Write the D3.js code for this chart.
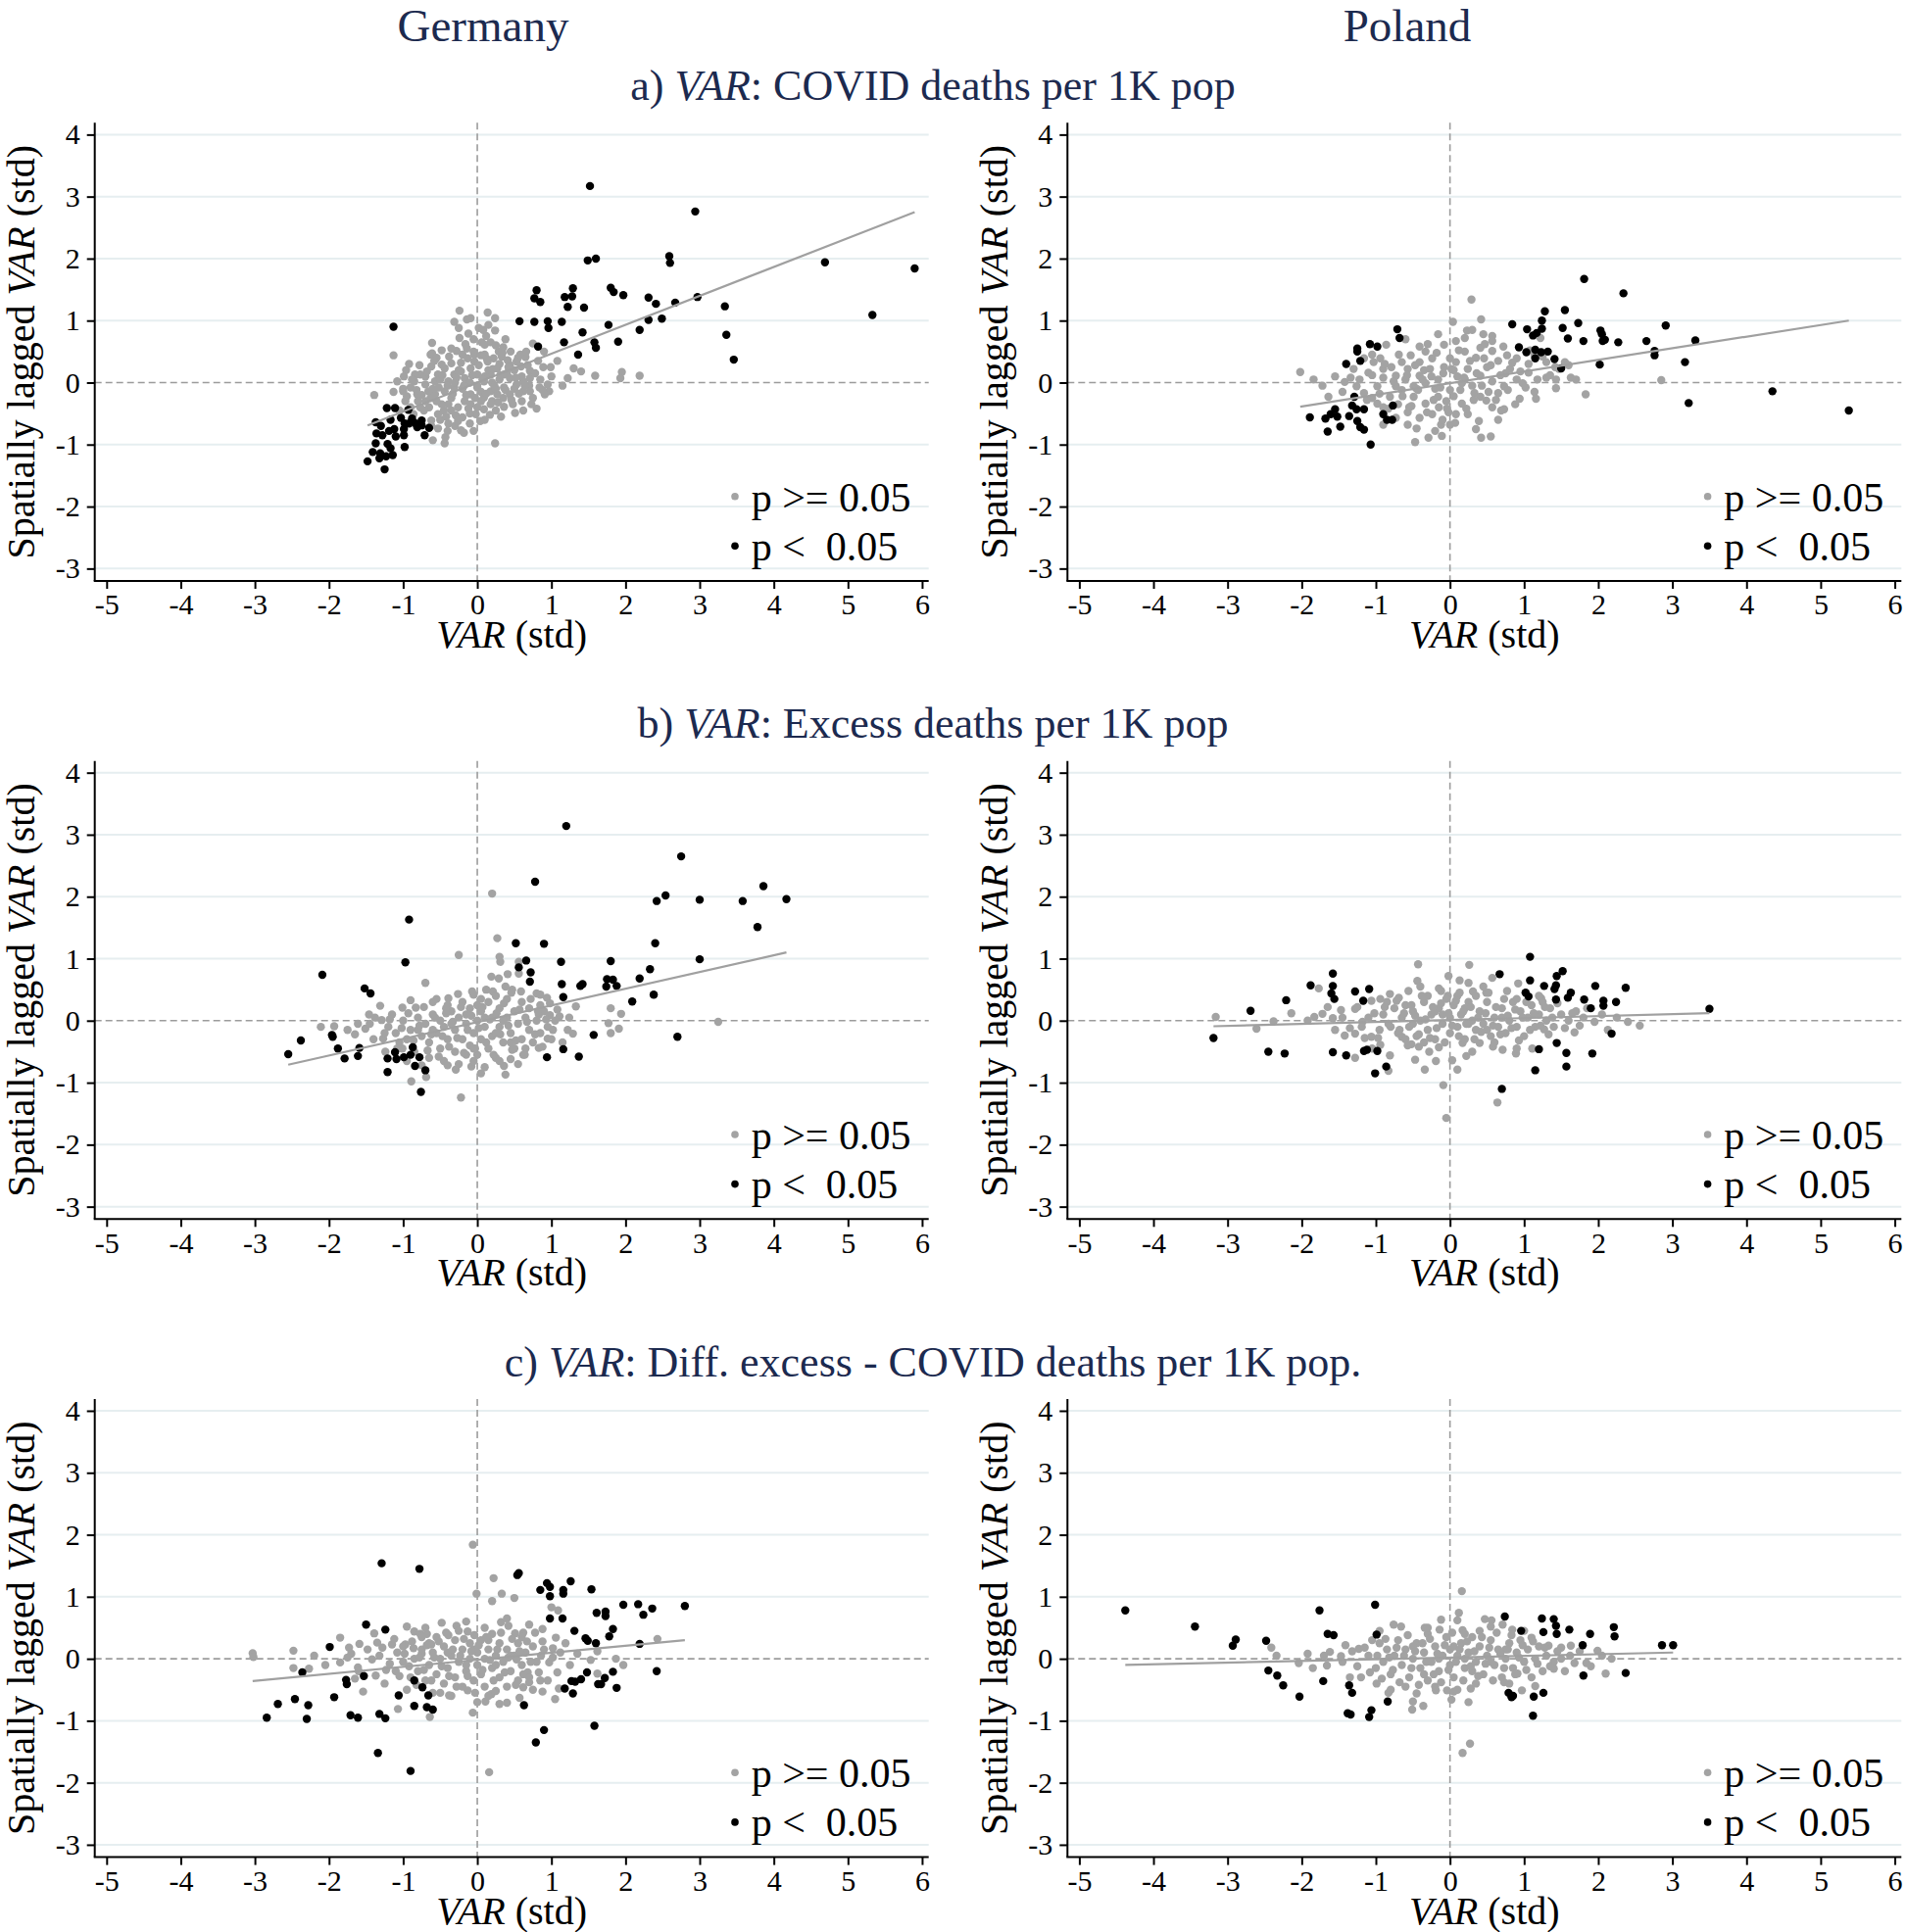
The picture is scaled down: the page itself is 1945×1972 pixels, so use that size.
<!DOCTYPE html>
<html><head><meta charset="utf-8">
<script src="https://cdn.jsdelivr.net/npm/d3@7"></script>
<style>
body{margin:0;background:#fff}
svg{display:block}
text{font-family:"Liberation Serif","Times New Roman",serif}
</style>
</head><body>
<svg id="chart" width="1945" height="1972"></svg>
<script>
// ---------- labels ----------
const colTitles = ["Germany", "Poland"];
const rowTitles = [
  ["a) ", "VAR", ": COVID deaths per 1K pop"],
  ["b) ", "VAR", ": Excess deaths per 1K pop"],
  ["c) ", "VAR", ": Diff. excess - COVID deaths per 1K pop."]
];
const xTicks = [-5,-4,-3,-2,-1,0,1,2,3,4,5,6];
const yTicks = [-3,-2,-1,0,1,2,3,4];
const legendLabels = ["p >= 0.05", "p <\u00a0 0.05"];

// ---------- data: [VAR, spatially lagged VAR] ----------
// a) Germany, COVID deaths
const deCovidSig = [[1.52,3.17],[2.94,2.76],[1.49,1.97],[1.60,2.00],[2.59,2.04],[2.60,1.93],[0.80,1.49],[0.77,1.36],[0.85,1.30],[1.29,1.52],[1.18,1.38],[1.28,1.39],[1.22,1.22],[1.44,1.21],[1.80,1.53],[1.84,1.46],[1.97,1.41],[2.31,1.37],[2.41,1.27],[2.67,1.29],[2.97,1.38],[3.34,1.23],[3.36,0.77],[3.46,0.37],[4.69,1.94],[5.33,1.09],[5.90,1.84],[0.57,0.99],[0.77,0.98],[0.95,0.99],[0.96,0.88],[1.14,0.98],[0.82,0.58],[1.17,0.65],[1.42,0.81],[1.36,0.45],[1.58,0.65],[1.60,0.56],[1.77,0.93],[1.90,0.66],[2.19,0.85],[2.31,1.01],[2.49,1.03],[-1.13,0.90],
[-1.22,-0.41],[-1.11,-0.41],[-0.93,-0.44],[-1.17,-0.60],[-0.88,-0.58],[-0.83,-0.66],[-0.75,-0.61],[-0.75,-0.69],[-0.65,-0.73],[-0.71,-0.85],[-0.98,-0.66],[-0.99,-0.75],[-1.12,-0.75],[-1.19,-0.78],[-1.36,-0.82],[-1.28,-0.85],[-1.10,-0.87],[-0.99,-0.85],[-1.37,-0.98],[-1.21,-0.99],[-0.98,-1.04],[-1.17,-1.06],[-1.41,-1.12],[-1.31,-1.14],[-1.23,-1.19],[-1.14,-1.17],[-1.32,-1.22],[-1.48,-1.27],[-1.25,-1.40],[-0.81,-0.72],[-1.03,-0.57],[-0.92,-0.66],[-1.37,-0.64],[-1.30,-0.70]];
const deCovidNs = [[-1.39,-0.20],[-1.13,0.44],[-1.13,-0.15],[-0.96,0.20],[-0.99,0.10],[-1.00,-0.14],[-0.97,-0.30],[-0.24,1.16],[-0.31,0.98],[-0.14,1.02],[-0.09,1.04],[-0.25,0.88],[-0.12,0.79],[-0.24,0.72],[0.14,1.13],[0.24,1.04],[0.15,0.93],[0.24,0.84],[0.02,0.88],[0.06,0.65],[-0.61,0.64],[-0.63,0.45],[-0.61,0.47],[-0.28,0.51],[-0.04,0.45],[0.10,0.61],[0.35,0.57],[0.33,0.42],[0.41,0.36],[0.75,0.63],[0.65,0.41],[0.89,0.25],[0.99,0.25],[1.30,0.23],[1.22,0.07],[1.59,0.11],[1.95,0.17],[1.93,0.07],[2.19,0.11],[0.71,0.19],[0.59,0.26],[0.80,-0.42],[0.51,-0.49],[0.36,-0.39],[0.24,-0.98],[0.48,-0.35],[0.60,-0.30],[0.97,-0.14],[0.95,-0.03],[0.71,-0.14],[-0.60,-0.93],[-0.44,-0.98],[-0.43,-0.88],[-0.22,-0.77],[-0.18,-0.81],[-0.10,-0.66],[-0.53,-0.74],[-0.39,-0.66],[-0.29,-0.53],[0.25,-0.45],[0.09,-0.43],[-0.02,-0.51],[-0.85,0.02],[-0.77,0.13],[-0.62,0.26],[-0.48,0.29],[-0.35,0.31],[-0.53,0.13],[-0.39,0.02],[-0.70,-0.03],[-0.81,-0.19],[-0.70,-0.30],[-0.57,-0.19],[-0.44,-0.14],[-0.31,-0.08],[-0.17,0.07],[-0.09,0.23],[0.00,0.13],[0.09,0.02],[0.18,0.13],[0.27,0.23],[0.36,0.13],[0.44,0.07],[0.53,-0.03],[0.62,0.02],[0.71,0.07],[0.00,-0.08],[-0.09,-0.19],[-0.17,-0.30],[-0.26,-0.40],[-0.39,-0.35],[-0.53,-0.51],[-0.62,-0.61],[0.09,-0.24],[0.18,-0.14],[0.27,-0.19],[0.36,-0.08],[0.44,-0.19],[0.05,0.44],[0.14,0.34],[0.22,0.39],[-0.04,0.34],[-0.13,0.39],[-0.22,0.18],[-0.31,0.13],[-0.44,0.23],[-0.57,0.02],[-0.66,-0.14],[-0.48,-0.35],[-0.35,-0.45],[-0.20,-0.56],[-0.09,-0.35],[0.05,-0.30],[0.18,-0.35],[-0.84,0.13],[-0.90,-0.08],[-0.77,-0.40],[-0.86,-0.51],[0.84,-0.08],[0.91,-0.19],[0.62,-0.14],[0.44,0.28],[0.53,0.34],[0.66,0.50],[0.29,0.50],[0.18,0.65],
[-0.30,0.00],[-0.20,-0.10],[-0.10,0.00],[0.00,-0.05],[0.10,0.10],[0.20,0.00],[0.30,0.05],[-0.40,-0.05],[-0.50,0.05],[-0.60,-0.10],[-0.70,0.10],[-0.25,0.20],[-0.15,-0.20],[0.05,-0.15],[0.15,0.20],[0.25,-0.10],[0.35,-0.25],[-0.35,-0.25],[-0.45,-0.45],[-0.55,-0.30],[-0.65,-0.40],[-0.75,-0.20],[-0.80,-0.30],[0.40,0.15],[0.50,0.20],[0.60,0.10],[0.70,-0.05],[0.50,-0.10],[0.30,0.30],[-0.05,0.50],[0.10,0.45],[-0.20,0.45],[0.20,-0.30],[0.00,-0.40],[-0.10,-0.50],[-0.30,-0.70],[0.10,-0.60],[-0.50,-0.60],[-0.90,-0.40],[-1.00,-0.10],[0.85,0.05],[1.00,0.10],[0.75,-0.25],[0.55,0.40],[0.45,0.50],[-0.05,0.70],[0.08,0.85],[-0.35,0.55],[-0.55,0.40],[0.25,0.60],
[-0.95,-0.22],[-0.88,0.05],[-0.82,-0.12],[-0.78,0.28],[-0.72,-0.45],[-0.68,0.18],[-0.63,-0.25],[-0.58,0.35],[-0.52,-0.08],[-0.47,0.12],[-0.42,-0.55],[-0.38,0.42],[-0.33,-0.18],[-0.28,0.08],[-0.26,-0.62],[-0.22,0.32],[-0.18,-0.05],[-0.14,0.55],[-0.12,-0.42],[-0.07,0.12],[-0.03,-0.25],[0.02,0.28],[0.04,-0.62],[0.07,0.05],[0.12,-0.18],[0.13,0.38],[0.17,-0.52],[0.21,0.22],[0.23,-0.05],[0.28,-0.32],[0.31,0.12],[0.34,0.48],[0.38,-0.12],[0.42,0.25],[0.46,-0.28],[0.52,0.08],[0.56,-0.18],[0.58,0.45],[0.64,-0.05],[0.68,0.28],[0.73,-0.35],[0.78,0.15],[0.82,0.35],[0.88,-0.12],[-1.05,-0.45],[-1.08,0.02],[-0.92,0.30],[-0.48,0.52],[-0.16,0.62],[0.12,0.75],[0.38,0.70],[-0.62,-0.70],[-0.40,-0.78],[-0.05,-0.78],[0.32,-0.55],[0.62,-0.45],[1.08,0.35],[1.15,-0.05],[1.40,0.18],[0.90,0.50]];
const deCovidFit = [[-1.48,-0.69],[5.90,2.75]];

// a) Poland, COVID deaths
const plCovidSig = [[1.81,1.67],[2.34,1.44],[1.28,1.15],[1.55,1.17],[0.84,0.94],[1.04,0.86],[1.24,1.00],[1.24,0.87],[1.12,0.76],[1.17,0.80],[1.52,0.88],[1.73,0.96],[1.59,0.71],[1.80,0.67],[2.03,0.84],[2.05,0.78],[2.06,0.67],[2.09,0.69],[2.27,0.65],[2.65,0.67],[2.91,0.92],[3.31,0.68],[2.76,0.51],[2.76,0.44],[0.93,0.57],[1.03,0.49],[1.15,0.53],[1.23,0.49],[1.32,0.50],[1.15,0.39],[1.41,0.38],[1.50,0.23],[2.02,0.29],[3.17,0.33],[3.22,-0.33],[4.35,-0.14],[5.38,-0.45],
[-0.71,0.86],[-0.68,0.72],[-1.08,0.62],[-0.98,0.58],[-1.25,0.55],[-1.25,0.50],[-1.21,0.35],[-1.40,0.30],[-1.89,-0.56],[-1.68,-0.58],[-1.65,-0.79],[-1.61,-0.51],[-1.55,-0.43],[-1.52,-0.55],[-1.48,-0.71],[-1.36,-0.54],[-1.32,-0.37],[-1.29,-0.23],[-1.26,-0.43],[-1.25,-0.62],[-1.21,-0.72],[-1.16,-0.76],[-1.16,-0.43],[-1.07,-1.00],[-0.90,-0.51],[-0.85,-0.60],[-0.78,-0.60],[-0.77,-0.37]];
const plCovidNs = [[-2.02,0.17],[-1.84,0.05],[-1.64,-0.23],[-1.42,0.01],[-1.34,0.08],[-1.16,0.39],[-1.03,0.33],[-0.94,0.39],[-0.86,0.61],[-0.79,0.25],[-0.41,0.58],[-0.16,0.78],[0.04,0.98],[0.29,1.34],[0.42,1.02],[0.23,0.84],[0.30,0.85],[0.45,0.78],[0.57,0.75],[0.57,0.67],[0.41,0.56],[0.57,0.51],[0.46,0.39],[0.77,0.44],[0.90,0.39],[1.22,0.72],[1.30,0.08],[1.43,0.05],[1.63,0.08],[1.83,-0.19],[2.85,0.04],[1.43,-0.09],[1.14,-0.15],[1.16,-0.26],[0.94,-0.26],[0.73,-0.43],[0.69,-0.45],[0.57,-0.40],[0.39,-0.62],[0.42,-0.89],[0.55,-0.87],[-0.29,-0.89],[-0.47,-0.96],[-0.11,-0.86],[-0.45,-0.74],[-0.12,-0.68],[0.07,-0.65],[-0.02,-0.48],[-0.41,-0.57],[-0.57,-0.48],[-0.90,-0.68],[-0.73,-0.57],[-1.26,-0.06],[-1.16,-0.17],[-0.98,-0.06],[-0.90,0.08],[-0.73,0.11],[-0.57,0.22],[-0.41,0.33],[-0.24,0.39],[-0.08,0.25],[0.08,0.33],[0.24,0.22],[0.41,0.11],[0.57,0.02],[0.73,-0.06],[0.90,0.05],[1.06,0.16],[0.98,-0.01],[0.16,-0.01],[0.00,-0.12],[-0.16,-0.23],[-0.33,-0.34],[-0.49,-0.23],[-0.65,-0.12],[-0.81,-0.23],[-0.98,-0.34],[-0.33,-0.01],[-0.49,-0.06],[-0.16,0.05],[0.33,-0.17],[0.49,-0.29],[0.16,-0.34],[0.08,-0.51],[-0.24,-0.51],[0.24,-0.51],[0.65,-0.17],[0.81,0.22],[1.06,0.30],[1.14,0.44],[1.30,0.33],[1.47,0.22],[1.55,0.33],[-0.41,0.11],[-0.73,-0.06],[-1.30,0.22],[-1.10,0.16],[-0.90,0.22],[-0.65,0.33],[-0.53,0.44],[-0.33,0.50],[-0.08,0.61],[0.08,0.67],[0.20,0.50],[0.00,0.39],[-0.90,-0.40],[-0.57,-0.68],[0.00,-0.68],[0.41,-0.23],
[-0.60,0.05],[-0.45,-0.10],[-0.25,0.10],[-0.05,-0.30],[0.10,0.10],[0.30,-0.05],[0.50,0.25],[0.65,0.35],[-0.20,-0.10],[0.20,0.05],[-0.70,-0.35],[-0.35,0.20],[0.05,0.20],[0.75,0.15],[-1.05,-0.25],[-0.55,-0.40],[0.35,0.40],[-0.15,-0.40],
[-1.22,0.05],[-1.12,-0.28],[-1.05,0.12],[-0.95,-0.18],[-0.88,0.30],[-0.83,-0.42],[-0.76,0.02],[-0.69,0.45],[-0.64,-0.22],[-0.58,0.12],[-0.52,-0.38],[-0.47,0.28],[-0.43,-0.12],[-0.37,0.05],[-0.31,-0.48],[-0.27,0.22],[-0.22,-0.28],[-0.18,0.48],[-0.13,-0.08],[-0.09,0.15],[-0.04,-0.42],[0.02,0.22],[0.05,-0.22],[0.12,0.52],[0.14,-0.12],[0.19,0.08],[0.22,-0.42],[0.27,0.35],[0.32,-0.28],[0.36,0.15],[0.43,-0.05],[0.47,0.62],[0.52,-0.15],[0.55,0.28],[0.62,-0.28],[0.68,0.12],[0.72,0.58],[0.78,-0.12],[0.84,0.32],[0.88,-0.35],[0.95,0.18],[1.02,-0.08],[1.08,0.52],[1.18,0.05],[1.25,0.42],[1.35,0.12],[1.42,0.25],[1.60,0.28],[-1.45,-0.15],[-1.55,0.10],[-1.72,-0.05],[-1.05,0.45],[-0.30,0.62],[0.35,-0.75],[-0.20,-0.78],[0.65,-0.60],[1.70,0.05],[0.20,0.72],[-0.60,0.70],[-0.10,-0.60]];
const plCovidFit = [[-2.02,-0.39],[5.38,1.00]];

// b) Germany, excess deaths
const deExcSig = [[1.20,3.14],[2.75,2.65],[0.78,2.24],[2.42,1.93],[2.54,2.02],[3.00,1.95],[3.58,1.93],[3.86,2.17],[4.17,1.96],[3.78,1.51],[-0.92,1.63],[-0.97,0.94],[-2.09,0.74],[-1.52,0.52],[-1.44,0.44],[0.52,1.25],[0.90,1.24],[2.40,1.25],[0.66,0.97],[0.56,0.86],[0.72,0.78],[0.71,0.63],[1.13,0.95],[1.80,0.96],[3.00,0.99],[1.14,0.59],[1.39,0.56],[1.42,0.59],[1.16,0.38],[1.75,0.67],[1.83,0.66],[1.74,0.55],[1.88,0.56],[2.19,0.68],[2.33,0.83],[2.38,0.42],[2.09,0.31],[2.70,-0.26],[1.57,-0.23],[1.16,-0.46],[1.37,-0.58],[0.94,-0.59],[-2.55,-0.54],[-2.38,-0.32],[-1.96,-0.23],[-1.95,-0.26],[-1.88,-0.45],[-1.79,-0.61],[-1.59,-0.44],[-1.61,-0.57],[-1.21,-0.61],[-1.21,-0.83],[-1.11,-0.51],[-1.09,-0.62],[-0.99,-0.59],[-0.87,-0.43],[-0.90,-0.55],[-0.78,-0.59],[-0.84,-0.73],[-0.70,-0.80],[-0.76,-1.15]];
const deExcNs = [[0.20,2.05],[0.27,1.33],[-0.25,1.06],[0.30,1.03],[0.31,0.95],[-0.70,0.61],[0.19,0.71],[0.29,0.68],[0.41,0.75],[0.56,0.95],[0.56,0.76],[-1.31,0.24],[-0.90,0.33],[-0.83,0.21],[-1.01,0.21],[-0.39,0.36],[-0.26,0.43],[-0.42,0.20],[-0.07,0.47],[0.21,0.47],[0.47,0.50],[0.59,0.47],[0.80,0.44],[0.94,0.37],[1.33,0.23],[1.80,0.20],[1.94,0.11],[3.25,-0.02],[1.77,-0.04],[1.91,-0.13],[1.80,-0.20],[-2.11,-0.10],[-1.93,-0.09],[-1.75,-0.15],[-1.65,-0.22],[-1.61,-0.05],[-1.51,-0.13],[-1.46,0.10],[-1.38,0.05],[-1.29,0.01],[-1.27,-0.29],[-1.24,-0.50],[-1.01,-0.45],[-0.89,-0.98],[-0.69,-0.91],[-0.22,-1.24],[-0.29,-0.79],[-0.08,-0.74],[0.36,-0.73],[0.38,-0.87],[0.47,-0.47],[0.64,-0.55],[0.83,-0.44],[0.95,-0.29],[1.22,-0.15],[1.29,-0.21],[1.11,0.07],[1.24,0.05],[0.98,0.09],[0.83,0.10],
[-1.20,-0.10],[-1.10,-0.20],[-1.00,0.00],[-0.95,-0.30],[-0.90,-0.15],[-0.80,0.05],[-0.75,-0.25],[-0.70,-0.05],[-0.65,-0.35],[-0.60,0.10],[-0.55,-0.20],[-0.50,-0.45],[-0.50,0.00],[-0.45,-0.10],[-0.40,-0.30],[-0.35,0.15],[-0.30,-0.15],[-0.30,-0.50],[-0.25,0.05],[-0.20,-0.30],[-0.15,-0.05],[-0.10,0.20],[-0.10,-0.40],[-0.05,-0.20],[0.00,0.00],[0.00,-0.55],[0.05,0.15],[0.05,-0.30],[0.10,-0.10],[0.15,0.30],[0.15,-0.45],[0.20,0.05],[0.20,-0.25],[0.25,-0.60],[0.30,0.20],[0.30,-0.10],[0.35,-0.35],[0.40,0.05],[0.40,0.35],[0.45,-0.20],[0.50,0.15],[0.50,-0.45],[0.55,-0.05],[0.60,0.30],[0.60,-0.30],[0.65,0.05],[0.70,-0.15],[0.70,0.20],[0.75,-0.35],[0.80,0.00],[0.85,-0.20],[0.90,0.15],[0.95,-0.10],[1.00,-0.30],[1.05,0.00],[-0.85,-0.50],[-0.65,-0.60],[-0.45,-0.65],[-0.25,-0.70],[-0.05,-0.65],[0.10,-0.75],[0.30,-0.65],[0.55,-0.70],[-1.05,-0.35],[-1.15,0.10],[-0.60,0.30],[-0.40,0.25],[-0.20,0.30],[0.05,0.35],[0.25,0.40],[-0.15,-0.55],[0.12,0.50],
[-0.35,-0.05],[-0.15,0.10],[0.10,0.05],[0.35,0.00],[-0.60,-0.15],[0.25,-0.20],[0.45,-0.35],[-0.05,-0.45],[0.65,-0.45],[-0.80,-0.15],[0.85,0.25],[0.00,0.25],
[-1.25,-0.20],[-1.18,0.02],[-1.08,-0.45],[-1.02,-0.12],[-0.93,0.12],[-0.86,-0.32],[-0.78,-0.08],[-0.72,0.22],[-0.67,-0.48],[-0.62,-0.22],[-0.57,0.05],[-0.52,-0.58],[-0.47,-0.25],[-0.42,0.12],[-0.38,-0.42],[-0.33,-0.02],[-0.27,-0.28],[-0.22,0.22],[-0.18,-0.52],[-0.13,-0.15],[-0.08,0.08],[-0.03,-0.45],[0.02,-0.12],[0.07,0.22],[0.12,-0.35],[0.17,0.02],[0.22,-0.55],[0.26,0.12],[0.31,-0.22],[0.36,0.28],[0.42,-0.08],[0.46,0.45],[0.52,-0.32],[0.57,0.18],[0.62,-0.55],[0.67,-0.02],[0.72,0.35],[0.78,-0.22],[0.82,0.15],[0.88,-0.42],[0.93,0.02],[0.98,0.28],[1.02,-0.15],[1.08,0.18],[1.15,-0.35],[-1.40,-0.30],[-1.45,-0.05],[-0.95,-0.65],[-0.55,0.35],[-0.05,0.42],[0.38,0.55],[0.85,0.42],[-0.40,-0.72],[0.05,-0.85],[0.45,-0.62],[-0.75,-0.72]];
const deExcFit = [[-2.55,-0.71],[4.17,1.10]];

// b) Poland, excess deaths
const plExcSig = [[1.08,1.03],[0.67,0.75],[1.08,0.65],[1.52,0.80],[1.44,0.72],[1.27,0.56],[1.43,0.57],[1.41,0.51],[1.63,0.45],[1.59,0.37],[1.96,0.56],[2.37,0.53],[1.02,0.45],[1.06,0.39],[1.43,0.34],[1.81,0.34],[2.07,0.32],[2.07,0.24],[2.24,0.30],[1.90,0.20],[3.50,0.19],[2.18,-0.21],[1.20,-0.46],[1.44,-0.36],[1.57,-0.52],[1.92,-0.53],[1.15,-0.80],[1.57,-0.74],[0.70,-1.10],[-1.58,0.76],[-1.88,0.57],[-1.58,0.56],[-1.60,0.44],[-1.56,0.35],[-1.28,0.47],[-1.09,0.51],[-1.17,0.32],[-2.69,0.16],[-2.21,0.33],[-3.19,-0.28],[-2.45,-0.50],[-2.23,-0.53],[-1.58,-0.51],[-1.40,-0.56],[-1.16,-0.49],[-1.12,-0.47],[-0.98,-0.49],[-0.86,-0.74],[-1.01,-0.85]];
const plExcNs = [[-3.16,0.06],[-2.61,-0.13],[-2.38,-0.01],[-2.14,0.12],[-1.92,0.00],[-1.83,0.06],[-1.72,0.11],[-1.77,0.52],[-1.58,0.04],[-1.47,0.17],[-1.28,0.19],[-1.06,0.32],[-0.94,0.35],[-0.81,0.43],[-0.69,0.37],[-0.56,0.48],[-0.44,0.64],[-0.43,0.91],[-0.02,0.72],[0.13,0.65],[0.26,0.90],[0.25,0.61],[-0.12,0.48],[-0.03,0.40],[0.13,0.45],[0.31,0.47],[0.49,0.45],[0.57,0.69],[0.77,0.48],[0.92,0.60],[1.23,0.36],[2.56,-0.08],[2.13,-0.15],[1.68,-0.19],[1.27,-0.14],[-1.42,-0.24],[-1.28,-0.21],[-1.19,-0.10],[-1.15,-0.28],[-1.06,-0.26],[-0.94,-0.39],[-1.28,-0.60],[-0.81,-0.56],[-0.83,-0.81],[-0.52,-0.38],[-0.42,-0.42],[-0.28,-0.50],[-0.47,-0.63],[-0.19,-0.65],[-0.15,-0.43],[-0.34,-0.79],[0.03,-0.64],[0.10,-0.79],[0.22,-0.57],[-0.09,-1.04],[-0.05,-1.57],[0.64,-1.32],[0.58,-0.42],[0.71,-0.47],[0.89,-0.53],[1.11,-0.45],[0.40,-0.36],[-0.65,-0.26],[0.17,-0.36],
[-0.90,0.10],[-0.80,-0.10],[-0.75,0.20],[-0.70,-0.20],[-0.65,0.05],[-0.60,0.25],[-0.55,-0.10],[-0.50,0.15],[-0.45,-0.25],[-0.40,0.00],[-0.35,0.30],[-0.30,-0.15],[-0.25,0.10],[-0.20,-0.30],[-0.15,0.20],[-0.10,-0.05],[-0.05,0.35],[0.00,0.05],[0.00,-0.20],[0.05,0.25],[0.10,-0.10],[0.15,0.10],[0.20,-0.30],[0.25,0.30],[0.30,0.00],[0.35,-0.15],[0.40,0.15],[0.45,-0.05],[0.50,0.30],[0.55,-0.25],[0.60,0.05],[0.65,-0.10],[0.70,0.20],[0.75,-0.20],[0.80,0.00],[0.85,0.30],[0.90,-0.10],[0.95,0.15],[1.00,-0.25],[1.05,0.05],[1.10,0.25],[1.15,-0.10],[1.20,0.10],[1.30,0.00],[1.35,0.20],[1.40,-0.10],[1.50,0.10],[1.60,0.00],[1.70,0.15],[1.80,0.05],[-0.95,-0.15],[-1.10,0.05],[-0.85,0.30],[-0.30,0.40],[0.35,0.40],[0.60,-0.35],[-0.60,-0.30],[0.10,0.40],[-0.20,0.15],[0.25,-0.05],
[-0.50,-0.05],[0.20,0.20],[0.50,-0.15],[-0.10,0.10],[0.90,0.35],[1.25,0.30],[-0.35,-0.35],[0.70,0.05],
[-1.45,0.05],[-1.35,-0.12],[-1.25,0.22],[-1.18,-0.02],[-1.02,0.12],[-0.97,-0.28],[-0.88,0.22],[-0.83,-0.05],[-0.72,0.32],[-0.68,-0.15],[-0.62,0.12],[-0.57,-0.40],[-0.52,0.25],[-0.47,0.08],[-0.42,-0.22],[-0.38,0.40],[-0.33,0.02],[-0.27,-0.28],[-0.23,0.22],[-0.18,-0.12],[-0.12,0.28],[-0.07,-0.35],[-0.02,0.12],[0.03,-0.08],[0.08,0.32],[0.12,-0.25],[0.18,0.15],[0.22,-0.05],[0.28,0.22],[0.33,-0.30],[0.38,0.05],[0.42,-0.18],[0.48,0.12],[0.52,0.45],[0.58,-0.08],[0.62,0.22],[0.68,-0.22],[0.73,0.35],[0.78,0.08],[0.83,-0.12],[0.88,0.18],[0.93,-0.32],[0.98,0.05],[1.03,0.30],[1.08,-0.15],[1.13,0.12],[1.22,-0.08],[1.28,0.22],[1.33,-0.22],[1.38,0.05],[1.45,0.28],[1.55,-0.12],[1.65,0.12],[1.75,-0.08],[1.85,0.20],[1.95,-0.02],[2.05,0.10],[2.25,0.05],[2.40,-0.02],[-1.55,-0.15],[-1.65,0.22],[-1.05,-0.45],[-0.15,0.52],[0.45,0.55],[1.20,0.40],[0.30,-0.50],[-0.40,0.55],[0.90,-0.45]];
const plExcFit = [[-3.19,-0.09],[3.50,0.12]];

// c) Germany, difference excess - COVID
const deDiffSig = [[-1.29,1.54],[-0.78,1.45],[0.54,1.35],[0.56,1.38],[0.94,1.22],[0.98,1.16],[0.85,1.11],[0.98,1.01],[1.26,1.25],[1.16,1.11],[1.16,1.05],[1.54,1.12],[1.97,0.87],[2.17,0.88],[2.36,0.81],[2.24,0.71],[1.61,0.74],[1.73,0.76],[1.73,0.69],[2.80,0.85],[0.98,0.65],[1.15,0.65],[1.83,0.48],[1.78,0.36],[1.31,0.45],[1.46,0.33],[1.49,0.29],[1.60,0.25],[2.19,0.24],[-1.50,0.55],[-1.24,0.47],[-1.99,0.19],[-2.36,-0.22],[-1.53,-0.28],[-1.77,-0.34],[-1.76,-0.41],[-1.93,-0.62],[-2.46,-0.65],[-2.69,-0.73],[-2.28,-0.75],[-2.84,-0.95],[-2.30,-0.97],[-1.71,-0.91],[-1.61,-0.95],[-1.32,-0.89],[-1.24,-0.96],[-1.34,-1.52],[-0.90,-1.81],[-1.06,-0.59],[-0.85,-0.35],[-0.74,-0.46],[-0.66,-0.59],[-0.85,-0.76],[-0.68,-0.78],[-0.60,-0.82],[0.63,-0.75],[0.79,-1.35],[0.90,-1.15],[1.58,-1.08],[1.18,-0.48],[1.29,-0.56],[1.27,-0.36],[1.32,-0.37],[1.40,-0.33],[1.48,-0.22],[1.63,-0.41],[1.67,-0.41],[1.72,-0.31],[1.83,-0.21],[1.88,-0.47],[2.42,-0.20]];
const deDiffNs = [[-0.06,1.84],[-0.01,1.05],[0.22,1.30],[0.33,1.05],[0.20,0.93],[0.50,0.98],[1.00,0.83],[1.09,0.78],[2.43,0.32],[1.97,-0.10],[1.87,0.00],[1.53,-0.02],[1.62,-0.24],[1.62,0.12],[-3.03,0.09],[-3.02,0.03],[-2.48,0.13],[-2.48,-0.15],[-2.27,-0.16],[-1.85,0.34],[-1.73,0.18],[-1.59,0.24],[-1.70,0.08],[-1.85,-0.06],[-1.61,-0.14],[-1.54,-0.53],[-1.65,-0.32],[-1.39,0.41],[-1.35,0.26],[-1.28,0.18],[-1.15,0.23],[-1.08,0.10],[-1.42,-0.01],[-1.37,-0.27],[-1.23,-0.18],[-1.07,-0.81],[-0.95,0.52],[-0.85,0.44],[-0.77,0.40],[-0.68,0.40],[-0.97,0.23],[-0.86,0.17],[-0.75,0.08],[-0.62,0.23],[-0.48,0.58],[-0.28,0.53],[-0.39,0.38],[-0.13,0.44],[-0.04,0.38],[-0.64,-0.94],[-0.38,-0.59],[-0.13,-0.51],[-0.06,-0.87],[0.11,-0.69],[0.19,-0.57],[0.30,-0.73],[0.40,-0.71],[0.16,-1.83],[0.57,-0.63],[0.62,-0.46],[0.70,-0.38],[0.88,-0.53],[1.05,-0.65],[1.10,-0.48],[0.32,0.59],[0.42,0.53],[0.51,0.41],[0.62,0.42],[0.88,0.48],[1.06,0.34],[1.19,0.25],[1.02,0.17],[0.86,0.05],[0.97,-0.06],[1.08,-0.22],[0.68,-0.22],[0.53,-0.01],
[-1.00,-0.05],[-0.90,-0.30],[-0.85,0.00],[-0.80,-0.20],[-0.75,0.15],[-0.70,-0.35],[-0.65,-0.10],[-0.60,0.10],[-0.55,-0.25],[-0.50,0.00],[-0.45,0.20],[-0.45,-0.40],[-0.40,-0.15],[-0.35,0.05],[-0.30,-0.30],[-0.30,0.30],[-0.25,-0.05],[-0.20,0.15],[-0.20,-0.45],[-0.15,-0.20],[-0.10,0.00],[-0.10,0.25],[-0.05,-0.35],[0.00,0.10],[0.00,-0.10],[0.05,-0.25],[0.05,0.30],[0.10,0.00],[0.10,-0.45],[0.15,0.15],[0.20,-0.15],[0.20,0.40],[0.25,0.05],[0.30,-0.30],[0.30,0.25],[0.35,-0.05],[0.40,0.15],[0.40,-0.45],[0.45,-0.20],[0.50,0.05],[0.55,0.25],[0.60,-0.10],[0.65,0.10],[0.70,-0.30],[0.75,0.20],[0.80,-0.05],[0.85,-0.35],[0.90,0.15],[-1.10,-0.20],[-1.00,0.20],[-0.95,-0.50],[-0.60,-0.55],[-0.35,-0.60],[0.15,-0.60],[-0.75,0.35],[-0.55,0.35],[0.60,0.35],[0.75,-0.50],[-0.25,0.45],[0.10,0.50],
[-0.40,0.10],[0.25,-0.10],[-0.15,-0.10],[0.45,0.05],[-0.65,0.25],[0.55,-0.35],[-0.05,0.15],[0.15,0.30],
[-1.48,0.15],[-1.32,0.05],[-1.18,-0.08],[-1.12,0.32],[-1.05,-0.28],[-0.98,0.08],[-0.92,-0.12],[-0.88,0.28],[-0.82,-0.42],[-0.78,0.02],[-0.72,-0.18],[-0.68,0.22],[-0.62,-0.35],[-0.58,0.02],[-0.52,0.28],[-0.48,-0.12],[-0.42,0.42],[-0.38,-0.28],[-0.33,0.15],[-0.28,-0.45],[-0.23,0.05],[-0.18,0.32],[-0.13,-0.28],[-0.08,0.12],[-0.03,-0.55],[0.02,0.22],[0.07,-0.18],[0.12,0.35],[0.17,-0.02],[0.22,-0.35],[0.27,0.15],[0.32,0.42],[0.37,-0.22],[0.42,0.02],[0.47,0.32],[0.52,-0.42],[0.57,0.12],[0.62,-0.25],[0.67,0.28],[0.72,-0.05],[0.78,0.42],[0.83,-0.22],[0.88,0.28],[0.95,-0.35],[1.02,0.02],[1.12,0.10],[1.25,-0.10],[1.35,0.08],[-1.60,-0.20],[-1.75,0.02],[-2.05,-0.10],[-2.20,0.05],[-0.70,0.50],[-0.15,0.60],[0.40,0.65],[-0.50,-0.55],[0.25,-0.52],[0.00,-0.70],[0.70,0.55],[-1.25,-0.40]];
const deDiffFit = [[-3.03,-0.36],[2.80,0.30]];

// c) Poland, difference excess - COVID
const plDiffSig = [[-4.38,0.78],[-3.44,0.52],[-2.89,0.31],[-2.93,0.21],[-2.48,0.29],[-1.76,0.78],[-1.01,0.87],[-1.65,0.40],[-1.57,0.38],[-0.99,0.39],[-2.45,-0.19],[-2.33,-0.27],[-2.25,-0.43],[-2.03,-0.61],[-1.71,-0.36],[-1.36,-0.43],[-1.32,-0.55],[-1.38,-0.88],[-1.34,-0.90],[-1.06,-0.83],[-1.09,-0.94],[-0.84,-0.69],[0.74,0.68],[0.96,0.45],[1.24,0.65],[1.26,0.43],[1.40,0.64],[1.43,0.53],[1.44,0.40],[1.61,0.47],[1.89,0.40],[2.21,0.51],[2.22,0.36],[1.79,0.22],[2.86,0.22],[3.01,0.22],[1.80,-0.27],[2.37,-0.23],[0.79,-0.55],[0.83,-0.62],[0.85,-0.60],[1.13,-0.61],[1.26,-0.55],[1.12,-0.92]];
const plDiffNs = [[0.16,1.09],[0.12,0.74],[0.10,0.62],[-0.12,0.63],[-0.76,0.55],[-0.66,0.52],[-0.34,0.50],[-0.14,0.47],[0.17,0.46],[0.47,0.64],[0.56,0.62],[0.71,0.55],[0.84,0.47],[-2.41,0.18],[-2.34,0.05],[-2.04,-0.07],[-1.92,0.08],[-1.66,-0.11],[-1.62,0.11],[-1.47,0.04],[-1.41,0.22],[-1.23,0.16],[-1.35,-0.30],[-0.99,-0.40],[-0.83,-0.55],[-0.45,-0.56],[-0.50,-0.69],[-0.51,-0.82],[-0.36,-0.76],[-0.19,-0.51],[-0.04,-0.51],[0.05,-0.53],[0.02,-0.66],[0.25,-0.70],[0.28,-0.48],[0.27,-1.37],[0.17,-1.52],[0.73,-0.38],[0.97,-0.51],[1.15,-0.44],[0.91,-0.24],[1.40,-0.16],[1.68,-0.07],[1.84,-0.07],[2.10,-0.24],[2.18,0.00],[1.99,0.13],[1.50,0.18],[1.63,0.21],[1.33,0.21],[1.10,0.34],
[-1.10,0.05],[-1.00,-0.15],[-0.95,0.25],[-0.90,-0.05],[-0.85,0.15],[-0.80,-0.25],[-0.75,0.05],[-0.70,0.30],[-0.65,-0.10],[-0.60,0.15],[-0.55,-0.30],[-0.50,0.00],[-0.45,0.25],[-0.40,-0.15],[-0.35,0.10],[-0.30,-0.35],[-0.25,-0.05],[-0.20,0.20],[-0.15,-0.20],[-0.10,0.05],[-0.05,0.35],[0.00,-0.10],[0.00,0.15],[0.05,-0.30],[0.10,0.05],[0.15,0.25],[0.20,-0.15],[0.25,0.10],[0.30,0.35],[0.35,-0.05],[0.40,0.20],[0.45,-0.25],[0.50,0.05],[0.55,0.30],[0.60,-0.10],[0.65,0.15],[0.70,-0.30],[0.75,0.00],[0.80,0.25],[0.85,-0.15],[0.90,0.10],[0.95,0.30],[1.00,-0.05],[1.05,0.15],[1.15,0.00],[1.20,0.20],[1.30,0.05],[1.40,-0.05],[1.50,0.00],[-1.20,-0.30],[-0.60,-0.45],[-0.20,-0.45],[0.35,-0.40],[0.80,-0.40],[-0.30,0.40],[0.40,0.45],[0.20,0.40],[-1.05,0.30],[1.25,-0.20],[1.10,-0.30],
[-0.15,0.00],[0.20,0.00],[0.55,-0.05],[-0.50,0.20],[0.05,0.20],[0.75,0.15],[-0.35,-0.25],[0.30,-0.20],
[-1.45,-0.05],[-1.32,0.12],[-1.25,-0.12],[-1.15,0.18],[-1.08,-0.22],[-0.98,0.05],[-0.92,-0.32],[-0.87,0.32],[-0.82,0.02],[-0.77,-0.18],[-0.72,0.18],[-0.68,-0.38],[-0.62,0.05],[-0.57,0.38],[-0.52,-0.15],[-0.47,0.12],[-0.42,-0.42],[-0.37,0.25],[-0.32,-0.05],[-0.27,0.32],[-0.22,-0.25],[-0.17,0.08],[-0.12,-0.38],[-0.07,0.22],[-0.02,-0.18],[0.03,0.42],[0.08,-0.05],[0.13,0.15],[0.18,-0.35],[0.23,0.28],[0.28,-0.12],[0.33,0.12],[0.38,-0.28],[0.43,0.35],[0.48,-0.08],[0.53,0.18],[0.58,-0.35],[0.63,0.42],[0.68,0.08],[0.73,-0.15],[0.78,0.15],[0.83,0.38],[0.88,-0.25],[0.93,0.02],[0.98,0.22],[1.03,-0.18],[1.12,0.28],[1.18,-0.08],[1.28,0.18],[1.35,-0.12],[1.45,0.12],[1.55,-0.20],[1.62,0.05],[1.75,0.12],[1.90,-0.12],[2.05,0.05],[-1.70,0.05],[-1.85,-0.15],[-0.95,0.45],[0.55,0.52],[-0.30,0.50],[0.10,-0.50],[-0.80,-0.50],[1.00,0.45]];
const plDiffFit = [[-4.38,-0.10],[3.01,0.10]];

// ---------- panel list ----------
const panels = [
  {row:0, col:0, ns:deCovidNs, sig:deCovidSig, fit:deCovidFit},
  {row:0, col:1, ns:plCovidNs, sig:plCovidSig, fit:plCovidFit},
  {row:1, col:0, ns:deExcNs,   sig:deExcSig,   fit:deExcFit},
  {row:1, col:1, ns:plExcNs,   sig:plExcSig,   fit:plExcFit},
  {row:2, col:0, ns:deDiffNs,  sig:deDiffSig,  fit:deDiffFit},
  {row:2, col:1, ns:plDiffNs,  sig:plDiffSig,  fit:plDiffFit}
];

// ---------- layout ----------
const svg = d3.select("#chart");
svg.append("rect").attr("width",1945).attr("height",1972).attr("fill","#fff");

const navy = "#1c2a4f";
const grey = "#a3a3a3";
const axisXs = [96.7, 1089.3];     // y-axis line position per column
const plotW = 851;
const rowPitch = 651.3;
const y0Row1 = 390.5;              // pixel of y = 0 in the first row
const xUnit = 75.65, yUnit = 63.28;

// column titles
const colCx = [493, 1436];
colTitles.forEach((t,i) => {
  svg.append("text").attr("x", colCx[i]).attr("y", 42)
    .attr("text-anchor","middle").attr("font-size",47).attr("fill",navy).text(t);
});

// row titles
rowTitles.forEach((parts,r) => {
  const t = svg.append("text").attr("x", 952).attr("y", 102 + r*rowPitch)
    .attr("text-anchor","middle").attr("font-size",44).attr("fill",navy);
  t.append("tspan").text(parts[0]);
  t.append("tspan").attr("font-style","italic").text(parts[1]);
  t.append("tspan").text(parts[2]);
});

panels.forEach(p => {
  const ax = axisXs[p.col];
  const y0 = y0Row1 + p.row*rowPitch;
  const x = d3.scaleLinear().domain([-5,6]).range([ax+12.1, ax+12.1+11*xUnit]);
  const y = d3.scaleLinear().domain([-3,4]).range([y0+3*yUnit, y0-4*yUnit]);
  const left = ax, right = ax + plotW;
  const top = y(4.19), bottom = y(-3.2);
  const g = svg.append("g");

  // grid lines
  g.selectAll("line.grid").data(yTicks.filter(v => v !== 0)).join("line")
    .attr("x1", left).attr("x2", right)
    .attr("y1", d => y(d)).attr("y2", d => y(d))
    .attr("stroke","#e6eef0").attr("stroke-width",2);

  // zero reference lines
  g.append("line").attr("x1",left).attr("x2",right).attr("y1",y(0)).attr("y2",y(0))
    .attr("stroke","#9c9c9c").attr("stroke-width",1.6).attr("stroke-dasharray","7,4");
  g.append("line").attr("x1",x(0)).attr("x2",x(0)).attr("y1",top).attr("y2",bottom)
    .attr("stroke","#9c9c9c").attr("stroke-width",1.6).attr("stroke-dasharray","7,4");

  // points
  g.selectAll("circle.ns").data(p.ns).join("circle")
    .attr("cx", d => x(d[0])).attr("cy", d => y(d[1])).attr("r",4.2).attr("fill",grey);
  g.selectAll("circle.sig").data(p.sig).join("circle")
    .attr("cx", d => x(d[0])).attr("cy", d => y(d[1])).attr("r",4.2).attr("fill","#000");

  // fitted line
  g.append("path").datum(p.fit)
    .attr("d", d3.line().x(d => x(d[0])).y(d => y(d[1])))
    .attr("fill","none").attr("stroke","#a0a0a0").attr("stroke-width",2.2);

  // axes
  const xa = g.append("g").attr("transform",`translate(0,${bottom})`)
    .call(d3.axisBottom(x).tickValues(xTicks).tickSize(8).tickSizeOuter(0).tickPadding(5).tickFormat(d => String(d)));
  const ya = g.append("g").attr("transform",`translate(${left},0)`)
    .call(d3.axisLeft(y).tickValues(yTicks).tickSize(8).tickSizeOuter(0).tickPadding(7).tickFormat(d => String(d)));
  [xa, ya].forEach(a => {
    a.select(".domain").remove();
    a.selectAll(".tick line").attr("stroke","#000").attr("stroke-width",2);
    a.selectAll(".tick text").attr("font-family",'"Liberation Serif", serif').attr("font-size",30).attr("fill","#000");
  });
  g.append("line").attr("x1",left-1).attr("x2",right).attr("y1",bottom).attr("y2",bottom)
    .attr("stroke","#000").attr("stroke-width",2);
  g.append("line").attr("x1",left).attr("x2",left).attr("y1",top).attr("y2",bottom)
    .attr("stroke","#000").attr("stroke-width",2);

  // axis titles
  const xt = g.append("text").attr("x",(left+right)/2).attr("y", y0+270.5)
    .attr("text-anchor","middle").attr("font-size",40).attr("fill","#000");
  xt.append("tspan").attr("font-style","italic").text("VAR");
  xt.append("tspan").text(" (std)");
  const yt = g.append("text")
    .attr("transform",`translate(${left-61.5},${(top+bottom)/2}) rotate(-90)`)
    .attr("text-anchor","middle").attr("font-size",40).attr("fill","#000");
  yt.append("tspan").text("Spatially lagged ");
  yt.append("tspan").attr("font-style","italic").text("VAR");
  yt.append("tspan").text(" (std)");

  // legend
  const legColors = [grey, "#000"];
  legendLabels.forEach((lab,i) => {
    g.append("circle").attr("cx", left+653.3).attr("cy", y0+116.2+i*50.6).attr("r",3.8).attr("fill",legColors[i]);
    g.append("text").attr("x", left+670).attr("y", y0+131.2+i*50)
      .attr("font-size",42).attr("fill","#000").text(lab);
  });
});
</script>
</body></html>
